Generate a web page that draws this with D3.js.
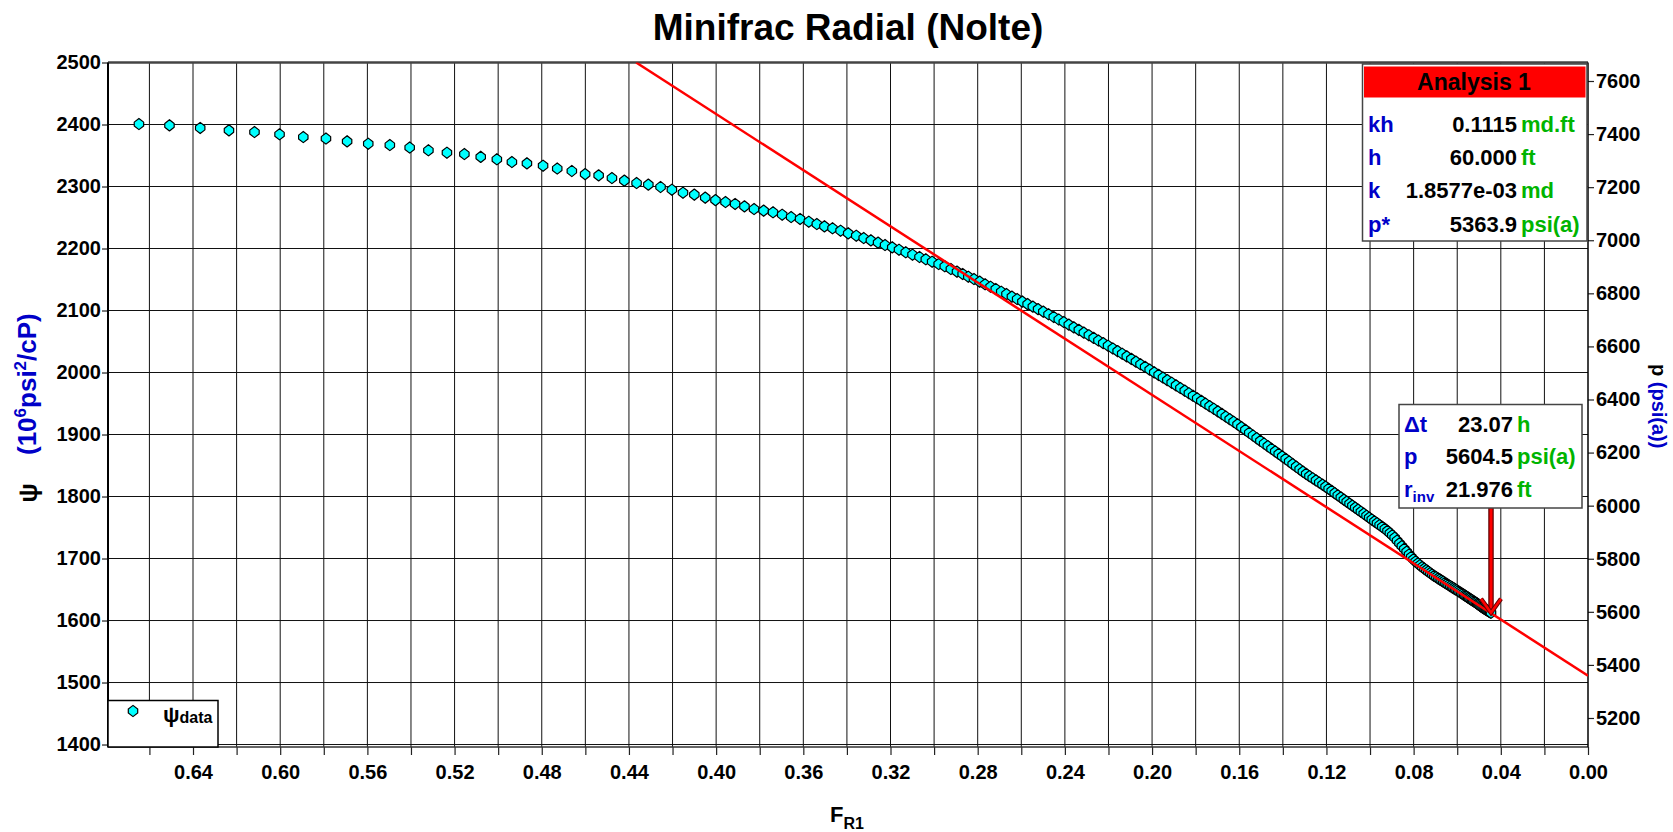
<!DOCTYPE html>
<html><head><meta charset="utf-8">
<script src="https://cdn.jsdelivr.net/npm/d3@7"></script>
<style>
html,body{margin:0;padding:0;background:#fff;}
svg{display:block;font-family:"Liberation Sans",Arial,sans-serif;font-weight:bold;}
</style></head><body>
<svg id="chart" width="1673" height="832"></svg>
<script>
// ---------------- data ----------------
const chartTitle = "Minifrac Radial (Nolte)";

// [F_R1, psi (10^6 psi^2/cP)]
const psiData = [
[0.6648,2400.8],[0.6508,2398.7],[0.6367,2394.4],[0.6235,2390.6],[0.6118,2387.9],[0.6003,2384.2],[0.5894,2379.8],
[0.5790,2377.4],[0.5693,2372.9],[0.5596,2369.0],[0.5497,2366.9],[0.5406,2362.9],[0.5320,2358.4],[0.5235,2354.5],
[0.5155,2352.4],[0.5080,2347.9],[0.5006,2343.9],[0.4937,2339.5],[0.4868,2337.4],[0.4794,2333.5],[0.4729,2329.0],
[0.4662,2325.0],[0.4601,2320.0],[0.4539,2318.0],[0.4478,2313.7],[0.4421,2309.4],[0.4365,2305.6],[0.4311,2303.0],
[0.4255,2299.2],[0.4203,2294.8],[0.4152,2290.0],[0.4100,2286.8],[0.4050,2282.0],[0.4003,2278.0],[0.3957,2275.0],
[0.3913,2271.8],[0.3870,2268.0],[0.3826,2263.7],[0.3782,2261.0],[0.3739,2258.4],[0.3697,2254.5],[0.3656,2250.8],
[0.3615,2247.6],[0.3575,2243.2],[0.3538,2239.5],[0.3503,2235.8],[0.3466,2232.6],[0.3429,2228.7],[0.3394,2224.5],
[0.3357,2220.6],[0.3323,2216.9],[0.3290,2213.2],[0.3257,2209.4],[0.3225,2205.6],[0.3192,2201.9],[0.3161,2198.0],
[0.3130,2193.9],[0.3099,2190.0],[0.3067,2186.3],[0.3038,2182.6],[0.3009,2178.7],[0.2979,2175.0],[0.2951,2171.3],
[0.2923,2166.9],[0.2895,2162.6],[0.2869,2158.9],[0.2843,2154.5],[0.2817,2150.8],[0.2791,2146.5],[0.2766,2142.3],
[0.2741,2138.4],[0.2717,2134.7],[0.2692,2130.3],[0.2668,2126.6],[0.2643,2122.3],[0.2619,2118.5],
[0.2595,2114.4],[0.2571,2110.4],[0.2547,2106.3],[0.2523,2102.2],[0.2499,2098.1],[0.2475,2093.9],[0.2451,2089.6],
[0.2428,2085.5],[0.2405,2081.4],[0.2382,2077.2],[0.2359,2072.9],[0.2336,2068.7],[0.2313,2064.4],[0.2290,2060.1],
[0.2268,2055.9],[0.2246,2051.6],[0.2224,2047.4],[0.2202,2043.2],[0.2180,2038.8],[0.2158,2034.4],[0.2137,2030.3],
[0.2116,2026.1],[0.2095,2021.9],[0.2074,2017.6],[0.2053,2013.3],[0.2032,2009.0],[0.2011,2004.7],[0.1990,2000.3],
[0.1970,1996.1],[0.1950,1991.9],[0.1930,1987.7],[0.1910,1983.5],[0.1890,1979.3],[0.1870,1975.0],[0.1850,1970.7],
[0.1831,1966.6],[0.1812,1962.5],[0.1793,1958.4],[0.1774,1954.2],[0.1755,1950.0],[0.1736,1945.8],[0.1717,1941.6],
[0.1698,1937.4],[0.1680,1933.2],[0.1662,1929.0],[0.1644,1924.8],[0.1626,1920.6],[0.1608,1916.4],[0.1590,1912.0],
[0.1572,1907.4],[0.1554,1902.8],[0.1537,1898.4],[0.1520,1894.1],[0.1503,1889.8],[0.1486,1885.5],[0.1469,1881.3],
[0.1452,1877.0],[0.1435,1872.8],[0.1419,1868.8],[0.1403,1864.8],[0.1387,1860.6],[0.1371,1856.5],[0.1355,1852.3],
[0.1339,1848.1],[0.1323,1844.0],[0.1308,1840.1],[0.1293,1836.4],[0.1278,1832.9],[0.1263,1829.5],[0.1248,1826.0],
[0.1233,1822.6],[0.1218,1819.1],[0.1204,1815.9],[0.1190,1812.5],[0.1176,1809.0],[0.1162,1805.5],[0.1148,1802.0],
[0.1134,1798.5],[0.1120,1795.0],[0.1107,1791.8],[0.1094,1788.5],[0.1081,1785.3],[0.1068,1782.0],[0.1055,1778.8],
[0.1042,1775.5],[0.1029,1772.3],[0.1016,1769.0],[0.1004,1766.0],[0.0992,1763.0],[0.0980,1760.0],[0.0968,1757.0],
[0.0956,1754.0],[0.0944,1751.0],[0.0932,1748.0],[0.0920,1744.5],[0.0909,1741.0],[0.0898,1737.5],[0.0887,1733.5],
[0.0876,1729.0],[0.0865,1724.5],[0.0854,1720.0],[0.0843,1715.5],[0.0832,1711.0],[0.0821,1706.5],[0.0811,1702.5],
[0.0801,1698.5],[0.0791,1695.2],[0.0781,1692.2],[0.0771,1689.2],[0.0761,1686.3],[0.0751,1683.7],[0.0742,1681.3],
[0.0733,1679.0],[0.0724,1676.6],[0.0715,1674.3],[0.0706,1672.1],[0.0697,1670.1],[0.0688,1668.0],[0.0680,1666.3],
[0.0672,1664.5],[0.0664,1662.7],[0.0656,1660.9],[0.0648,1659.1],[0.0640,1657.3],[0.0632,1655.5],[0.0624,1653.8],
[0.0617,1652.2],[0.0610,1650.7],[0.0603,1649.2],[0.0596,1647.6],[0.0589,1646.0],[0.0582,1644.4],[0.0575,1642.8],
[0.0568,1641.1],[0.0562,1639.8],[0.0556,1638.4],[0.0550,1637.0],[0.0544,1635.6],[0.0538,1634.2],[0.0532,1632.9],
[0.0526,1631.5],[0.0520,1630.1],[0.0514,1628.7],[0.0508,1627.3],[0.0503,1626.0],[0.0498,1624.7],[0.0493,1623.4],
[0.0488,1622.1],[0.0483,1620.8],[0.0478,1619.6],[0.0473,1618.5],[0.0468,1617.4],[0.0464,1616.6],[0.0460,1615.7],
[0.0456,1614.9],[0.0452,1614.0],[0.0448,1613.1],[0.0445,1612.5]
];

// straight-line fit (F_R1, psi)
const fitLineFR  = [0.0, 0.4367];
const fitLinePsi = [1511.0, 2500.0];

// axes
const xDomain = [0.679, 0];
const yDomain = [1396, 2500];
const pDomain = [5090.7, 7669.7];
const xLabelTicks = [0.00,0.04,0.08,0.12,0.16,0.20,0.24,0.28,0.32,0.36,0.40,0.44,0.48,0.52,0.56,0.60,0.64];
const xGridTicks = [0.02,0.04,0.06,0.08,0.10,0.12,0.14,0.16,0.18,0.20,0.22,0.24,0.26,0.28,0.30,0.32,0.34,
                    0.36,0.38,0.40,0.42,0.44,0.46,0.48,0.50,0.52,0.54,0.56,0.58,0.60,0.62,0.64,0.66];
const yTicks = [1400,1500,1600,1700,1800,1900,2000,2100,2200,2300,2400,2500];
const pTicks = [5200,5400,5600,5800,6000,6200,6400,6600,6800,7000,7200,7400,7600];

// info boxes
const analysisTitle = "Analysis 1";
const analysisLabels = ["kh","h","k","p*"];
const analysisValues = ["0.1115","60.000","1.8577e-03","5363.9"];
const analysisUnits  = ["md.ft","ft","md","psi(a)"];
const cursorLabels = ["Δt","p","r"];
const cursorValues = ["23.07","5604.5","21.976"];
const cursorUnits  = ["h","psi(a)","ft"];
const cursorPoint  = [0.0445, 1612.5];

// ---------------- drawing ----------------
const BLUE = "#0000C8", GREEN = "#00B400";
const L = 108, R = 1588, T = 62.5, B = 747;
const svg = d3.select("#chart");
const x = d3.scaleLinear().domain(xDomain).range([L, R]);
const y = d3.scaleLinear().domain(yDomain).range([B, T]);
const yP = d3.scaleLinear().domain(pDomain).range([B, T]);

// title
svg.append("text").attr("x", 848).attr("y", 40).attr("text-anchor","middle")
  .attr("font-size", 37).attr("fill","#000").text(chartTitle);

// plot background + grid
svg.append("rect").attr("x",L).attr("y",T).attr("width",R-L).attr("height",B-T).attr("fill","#fff");
const grid = svg.append("g").attr("stroke","#111").attr("stroke-width",1);
grid.selectAll("line.v").data(xGridTicks).join("line").attr("class","v")
  .attr("x1", d=>x(d)).attr("x2", d=>x(d)).attr("y1", T).attr("y2", B);
grid.selectAll("line.h").data(yTicks).join("line").attr("class","h")
  .attr("x1", L).attr("x2", R).attr("y1", d=>y(d)).attr("y2", d=>y(d));

// axes
const fmtX = d3.format(".2f");
const xAxis = d3.axisBottom(x).tickValues(xGridTicks.concat([0])).tickSize(8).tickPadding(10)
  .tickFormat(d => xLabelTicks.some(v => Math.abs(v-d)<1e-9) ? fmtX(d) : "");
const gx = svg.append("g").attr("transform",`translate(0,${B})`).call(xAxis);
gx.select(".domain").remove();
gx.selectAll("line").attr("stroke","#222").attr("stroke-width",1.2);
gx.selectAll("text").attr("font-size",20).attr("font-family","Liberation Sans, Arial, sans-serif")
  .attr("font-weight","bold").attr("fill","#000");

const gy = svg.append("g").attr("transform",`translate(${L},0)`)
  .call(d3.axisLeft(y).tickValues(yTicks).tickSize(6).tickPadding(1).tickFormat(d3.format("d")));
gy.select(".domain").remove();
gy.selectAll("line").attr("stroke","#222").attr("stroke-width",1.2);
gy.selectAll("text").attr("font-size",20).attr("font-family","Liberation Sans, Arial, sans-serif")
  .attr("font-weight","bold").attr("fill","#000");

const gp = svg.append("g").attr("transform",`translate(${R},0)`)
  .call(d3.axisRight(yP).tickValues(pTicks).tickSize(6).tickPadding(2).tickFormat(d3.format("d")));
gp.select(".domain").remove();
gp.selectAll("line").attr("stroke","#222").attr("stroke-width",1.2);
gp.selectAll("text").attr("font-size",20).attr("font-family","Liberation Sans, Arial, sans-serif")
  .attr("font-weight","bold").attr("fill","#000");

// borders
svg.append("line").attr("x1",L).attr("x2",R).attr("y1",T).attr("y2",T).attr("stroke","#444").attr("stroke-width",2.5);
svg.append("line").attr("x1",L).attr("x2",R).attr("y1",B).attr("y2",B).attr("stroke","#333").attr("stroke-width",1.5);
svg.append("line").attr("x1",L).attr("x2",L).attr("y1",T).attr("y2",B).attr("stroke","#000").attr("stroke-width",2);
svg.append("line").attr("x1",R).attr("x2",R).attr("y1",T).attr("y2",B).attr("stroke","#000").attr("stroke-width",1.5);

// clip
svg.append("clipPath").attr("id","plotclip").append("rect")
  .attr("x",L).attr("y",T).attr("width",R-L).attr("height",B-T);

// markers
const markerPath = "M0,-5.6 L4.7,-1.9 L4.7,1.9 L0,5.6 L-4.7,1.9 L-4.7,-1.9 Z";
svg.append("g").attr("clip-path","url(#plotclip)")
  .selectAll("path").data(psiData).join("path")
  .attr("d", markerPath)
  .attr("transform", d => `translate(${x(d[0])},${y(d[1])})`)
  .attr("fill","#00FFFF").attr("stroke","#000").attr("stroke-width",1.2).attr("stroke-linejoin","round");

// fit line
svg.append("line").attr("clip-path","url(#plotclip)")
  .attr("x1", x(fitLineFR[0])).attr("y1", y(fitLinePsi[0]))
  .attr("x2", x(fitLineFR[1])).attr("y2", y(fitLinePsi[1]))
  .attr("stroke","#FF0000").attr("stroke-width",2.5);

// legend
svg.append("rect").attr("x",L).attr("y",700.5).attr("width",110).attr("height",B-700.5)
  .attr("fill","#fff").attr("stroke","#000").attr("stroke-width",1.5);
svg.append("path").attr("d",markerPath).attr("transform","translate(133,711)")
  .attr("fill","#00FFFF").attr("stroke","#000").attr("stroke-width",1.2);
const lt = svg.append("text").attr("x",163).attr("y",722).attr("fill","#000");
lt.append("tspan").attr("font-size",22).text("ψ");
lt.append("tspan").attr("font-size",16).attr("dy",1).text("data");

// analysis box
const ab = svg.append("g");
ab.append("rect").attr("x",1362.5).attr("y",64).attr("width",224.5).attr("height",177)
  .attr("fill","#fff").attr("stroke","#444").attr("stroke-width",1.5);
ab.append("rect").attr("x",1364).attr("y",66.5).attr("width",221.5).attr("height",31).attr("fill","#FF0000");
ab.append("text").attr("x",1474).attr("y",90).attr("text-anchor","middle").attr("font-size",23)
  .attr("fill","#000").text(analysisTitle);
const aRowY = [131.5, 165, 198, 232];
analysisLabels.forEach((lab,i) => {
  ab.append("text").attr("x",1368).attr("y",aRowY[i]).attr("font-size",22).attr("fill",BLUE).text(lab);
  ab.append("text").attr("x",1517).attr("y",aRowY[i]).attr("font-size",22).attr("fill","#000")
    .attr("text-anchor","end").text(analysisValues[i]);
  ab.append("text").attr("x",1521).attr("y",aRowY[i]).attr("font-size",22).attr("fill",GREEN).text(analysisUnits[i]);
});

// cursor arrow
const ax = x(cursorPoint[0]), ay = y(cursorPoint[1]);
svg.append("line").attr("x1",ax).attr("x2",ax).attr("y1",506).attr("y2",ay-1)
  .attr("stroke","#600000").attr("stroke-width",5.5);
svg.append("line").attr("x1",ax).attr("x2",ax).attr("y1",506).attr("y2",ay-1)
  .attr("stroke","#FF0000").attr("stroke-width",3);
const chev = `M${ax-10},${ay-14} L${ax},${ay} L${ax+10},${ay-14}`;
svg.append("path").attr("d",chev).attr("fill","none").attr("stroke","#600000").attr("stroke-width",4.5).attr("stroke-linejoin","miter");
svg.append("path").attr("d",chev).attr("fill","none").attr("stroke","#FF0000").attr("stroke-width",2.5).attr("stroke-linejoin","miter");

// cursor box
const cb = svg.append("g");
cb.append("rect").attr("x",1399).attr("y",404.5).attr("width",183).attr("height",103.5)
  .attr("fill","#fff").attr("stroke","#444").attr("stroke-width",1.5);
const cRowY = [431.5, 463.5, 496.5];
cursorLabels.forEach((lab,i) => {
  const t = cb.append("text").attr("x",1404).attr("y",cRowY[i]).attr("font-size",22).attr("fill",BLUE);
  t.append("tspan").text(lab);
  if (i === 2) t.append("tspan").attr("font-size",15).attr("dy",5).text("inv");
  cb.append("text").attr("x",1513).attr("y",cRowY[i]).attr("font-size",22).attr("fill","#000")
    .attr("text-anchor","end").text(cursorValues[i]);
  cb.append("text").attr("x",1517).attr("y",cRowY[i]).attr("font-size",22).attr("fill",GREEN).text(cursorUnits[i]);
});

// axis titles
svg.append("text").attr("transform","translate(37,493) rotate(-90)").attr("text-anchor","middle")
  .attr("font-size",26).attr("fill","#000").text("ψ");
const yt = svg.append("text").attr("transform","translate(36,455) rotate(-90)")
  .attr("font-size",26).attr("fill",BLUE);
yt.append("tspan").text("(10");
yt.append("tspan").attr("font-size",17).attr("dy",-10).text("6");
yt.append("tspan").attr("dy",10).text("psi");
yt.append("tspan").attr("font-size",17).attr("dy",-10).text("2");
yt.append("tspan").attr("dy",10).text("/cP)");

const pt = svg.append("text").attr("transform","translate(1652,364) rotate(90)").attr("font-size",20);
pt.append("tspan").attr("fill","#000").text("p");
pt.append("tspan").attr("fill",BLUE).text(" (psi(a))");

const xt = svg.append("text").attr("x",830).attr("y",822).attr("fill","#000");
xt.append("tspan").attr("font-size",22).text("F");
xt.append("tspan").attr("font-size",16).attr("dy",7).text("R1");
</script>
</body></html>
